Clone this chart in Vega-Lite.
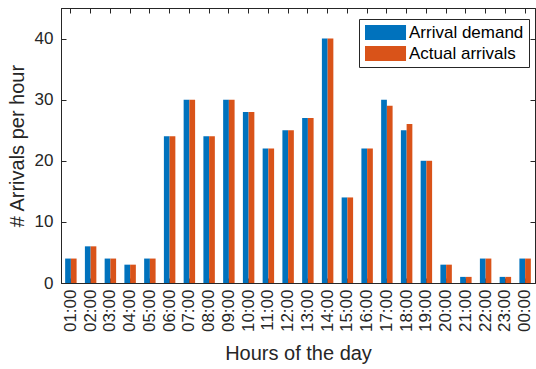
{
  "$schema": "https://vega.github.io/schema/vega-lite/v6.json",
  "width": 474,
  "height": 275,
  "autosize": {"type": "none"},
  "padding": {"left": 61, "top": 8, "right": 1, "bottom": 86},
  "background": "white",
  "config": {
    "font": "Liberation Sans",
    "view": {"stroke": "#262626", "strokeWidth": 1},
    "axis": {
      "labelFont": "Liberation Sans",
      "titleFont": "Liberation Sans",
      "labelColor": "#262626",
      "titleColor": "#262626",
      "domainColor": "#262626",
      "tickColor": "#262626",
      "labelFontSize": 17,
      "titleFontSize": 20,
      "titleFontWeight": "normal",
      "grid": false
    }
  },
  "data": {
    "values": [
      {"hour": "01:00", "series": "Arrival demand", "value": 4},
      {"hour": "01:00", "series": "Actual arrivals", "value": 4},
      {"hour": "02:00", "series": "Arrival demand", "value": 6},
      {"hour": "02:00", "series": "Actual arrivals", "value": 6},
      {"hour": "03:00", "series": "Arrival demand", "value": 4},
      {"hour": "03:00", "series": "Actual arrivals", "value": 4},
      {"hour": "04:00", "series": "Arrival demand", "value": 3},
      {"hour": "04:00", "series": "Actual arrivals", "value": 3},
      {"hour": "05:00", "series": "Arrival demand", "value": 4},
      {"hour": "05:00", "series": "Actual arrivals", "value": 4},
      {"hour": "06:00", "series": "Arrival demand", "value": 24},
      {"hour": "06:00", "series": "Actual arrivals", "value": 24},
      {"hour": "07:00", "series": "Arrival demand", "value": 30},
      {"hour": "07:00", "series": "Actual arrivals", "value": 30},
      {"hour": "08:00", "series": "Arrival demand", "value": 24},
      {"hour": "08:00", "series": "Actual arrivals", "value": 24},
      {"hour": "09:00", "series": "Arrival demand", "value": 30},
      {"hour": "09:00", "series": "Actual arrivals", "value": 30},
      {"hour": "10:00", "series": "Arrival demand", "value": 28},
      {"hour": "10:00", "series": "Actual arrivals", "value": 28},
      {"hour": "11:00", "series": "Arrival demand", "value": 22},
      {"hour": "11:00", "series": "Actual arrivals", "value": 22},
      {"hour": "12:00", "series": "Arrival demand", "value": 25},
      {"hour": "12:00", "series": "Actual arrivals", "value": 25},
      {"hour": "13:00", "series": "Arrival demand", "value": 27},
      {"hour": "13:00", "series": "Actual arrivals", "value": 27},
      {"hour": "14:00", "series": "Arrival demand", "value": 40},
      {"hour": "14:00", "series": "Actual arrivals", "value": 40},
      {"hour": "15:00", "series": "Arrival demand", "value": 14},
      {"hour": "15:00", "series": "Actual arrivals", "value": 14},
      {"hour": "16:00", "series": "Arrival demand", "value": 22},
      {"hour": "16:00", "series": "Actual arrivals", "value": 22},
      {"hour": "17:00", "series": "Arrival demand", "value": 30},
      {"hour": "17:00", "series": "Actual arrivals", "value": 29},
      {"hour": "18:00", "series": "Arrival demand", "value": 25},
      {"hour": "18:00", "series": "Actual arrivals", "value": 26},
      {"hour": "19:00", "series": "Arrival demand", "value": 20},
      {"hour": "19:00", "series": "Actual arrivals", "value": 20},
      {"hour": "20:00", "series": "Arrival demand", "value": 3},
      {"hour": "20:00", "series": "Actual arrivals", "value": 3},
      {"hour": "21:00", "series": "Arrival demand", "value": 1},
      {"hour": "21:00", "series": "Actual arrivals", "value": 1},
      {"hour": "22:00", "series": "Arrival demand", "value": 4},
      {"hour": "22:00", "series": "Actual arrivals", "value": 4},
      {"hour": "23:00", "series": "Arrival demand", "value": 1},
      {"hour": "23:00", "series": "Actual arrivals", "value": 1},
      {"hour": "00:00", "series": "Arrival demand", "value": 4},
      {"hour": "00:00", "series": "Actual arrivals", "value": 4}
    ]
  },
  "layer": [
    {
      "mark": {"type": "bar"},
      "encoding": {
        "x": {
          "field": "hour",
          "type": "nominal",
          "sort": null,
          "scale": {"paddingInner": 0.42, "paddingOuter": 0.21},
          "axis": {
            "title": "Hours of the day",
            "labelAngle": -90,
            "tickSize": -5,
            "labelPadding": 11,
            "titlePadding": 12
          }
        },
        "xOffset": {
          "field": "series",
          "type": "nominal",
          "sort": ["Arrival demand", "Actual arrivals"]
        },
        "y": {
          "field": "value",
          "type": "quantitative",
          "scale": {"domain": [0, 45], "nice": false},
          "axis": {
            "title": "# Arrivals per hour",
            "values": [0, 10, 20, 30, 40],
            "tickSize": -5,
            "labelPadding": 13,
            "titlePadding": 7
          }
        },
        "color": {
          "field": "series",
          "type": "nominal",
          "sort": ["Arrival demand", "Actual arrivals"],
          "scale": {
            "domain": ["Arrival demand", "Actual arrivals"],
            "range": ["#0072BD", "#D95319"]
          },
          "legend": {
            "title": null,
            "orient": "none",
            "legendX": 298,
            "legendY": 11,
            "direction": "vertical",
            "fillColor": "white",
            "strokeColor": "#262626",
            "padding": 5,
            "symbolType": "M-1,-1H4.47V1H-1Z",
            "symbolSize": 225,
            "symbolStrokeWidth": 0,
            "symbolOpacity": 1,
            "labelOffset": 28,
            "labelFontSize": 17,
            "labelFont": "Liberation Sans",
            "labelColor": "#000000",
            "rowPadding": 3
          }
        }
      }
    },
    {
      "mark": {"type": "bar", "opacity": 0},
      "encoding": {
        "x": {
          "field": "hour",
          "type": "nominal",
          "sort": null,
          "axis": {"orient": "top", "labels": false, "title": null, "tickSize": -5}
        },
        "y": {
          "field": "value",
          "type": "quantitative",
          "axis": {"orient": "right", "labels": false, "title": null, "values": [0, 10, 20, 30, 40], "tickSize": -5}
        }
      }
    }
  ],
  "resolve": {"axis": {"x": "independent", "y": "independent"}}
}
